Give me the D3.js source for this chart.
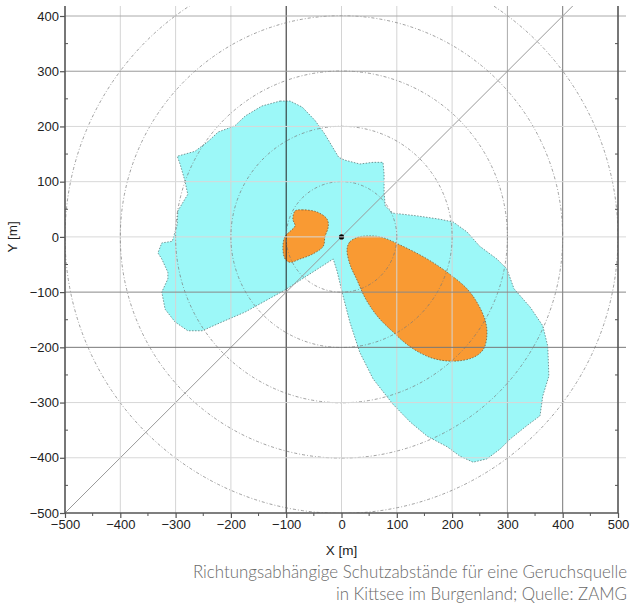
<!DOCTYPE html>
<html>
<head>
<meta charset="utf-8">
<script src="https://cdn.jsdelivr.net/npm/d3@7"></script>
<style>
  body { margin: 0; background: #fff; }
  svg { display: block; }
</style>
</head>
<body>
<script>
// distances in metres
const xTicks = [-500, -400, -300, -200, -100, 0, 100, 200, 300, 400, 500];
const yTicks = [-500, -400, -300, -200, -100, 0, 100, 200, 300, 400];
const rings = [100, 200, 300, 400, 500];

// outer (cyan) zone
const outerZone = [
  [-111, 246], [-93, 246], [-71, 235], [-48, 211], [-30, 186], [-14, 159], [-5, 144], [6, 139],
  [33, 132], [57, 135], [75, 135], [77, 114], [77, 81], [79, 56], [93, 43], [137, 38],
  [178, 32], [202, 27], [227, 9], [250, -17], [281, -40], [299, -58], [312, -94], [341, -127],
  [364, -161], [373, -198], [375, -252], [364, -288], [359, -324], [335, -342], [305, -366],
  [287, -384], [263, -402], [238, -408], [214, -397], [191, -380], [155, -361], [124, -335],
  [93, -303], [57, -257], [33, -209], [15, -154], [1, -100], [-8, -62], [-15, -40],
  [-102, -96], [-174, -136], [-216, -154], [-252, -170], [-278, -170], [-301, -154],
  [-319, -131], [-325, -100], [-314, -76], [-314, -64], [-325, -40], [-332, -29], [-325, -11],
  [-306, -8], [-297, 23], [-296, 47], [-278, 77], [-283, 101], [-292, 132], [-297, 146],
  [-265, 155], [-241, 173], [-223, 190], [-193, 201], [-174, 219], [-144, 237]
];

// inner (orange) zones
const innerZoneSE = [
  [10, -22], [15, -9], [26, -2], [37, 1], [70, 0], [111, -17], [155, -40], [191, -64],
  [227, -94], [247, -122], [260, -152], [263, -176], [257, -203], [239, -218], [205, -225],
  [169, -221], [142, -210], [115, -192], [93, -172], [66, -145], [44, -113], [28, -78], [15, -49]
];
const innerZoneNW = [
  [-84, 47], [-71, 49], [-44, 45], [-26, 32], [-24, 18], [-30, 0], [-33, -17], [-52, -31],
  [-75, -40], [-93, -46], [-102, -40], [-106, -18], [-102, 1], [-93, 10], [-84, 20], [-88, 32]
];

// grid line tones
const xGridColor = { "-100": "#222", "300": "#aaa", "400": "#777" };
const yGridColor = { "400": "#aaa", "300": "#999", "-100": "#888", "-200": "#777" };

const width = 632, height = 605;
const mLeft = 65, mRight = 618, mTop = 6, mBottom = 513;

const x = d3.scaleLinear().domain([-500, 500]).range([mLeft, mRight]);
const y = d3.scaleLinear().domain([-500, 400]).range([mBottom, mBottom - 497]);

const svg = d3.select("body").append("svg")
    .attr("width", width)
    .attr("height", height)
    .style("font-family", "'Liberation Sans', Arial, sans-serif");

svg.append("clipPath").attr("id", "plot")
  .append("rect")
    .attr("x", mLeft).attr("y", mTop)
    .attr("width", mRight - mLeft).attr("height", mBottom - mTop);

const plot = svg.append("g").attr("clip-path", "url(#plot)");

const line = d3.line().x(d => x(d[0])).y(d => y(d[1]));

plot.append("path")
    .attr("d", line.curve(d3.curveLinearClosed)(outerZone))
    .attr("fill", "#9cf8f8")
    .attr("stroke", "#4a6a6a")
    .attr("stroke-width", 0.7)
    .attr("stroke-dasharray", "1.5,1.5");

plot.selectAll("path.inner")
  .data([innerZoneSE, innerZoneNW])
  .join("path")
    .attr("class", "inner")
    .attr("d", d => d3.line().x(p => x(p[0])).y(p => y(p[1])).curve(d3.curveCatmullRomClosed)(d))
    .attr("fill", "#f99a33")
    .attr("stroke", "#6a4a2a")
    .attr("stroke-width", 0.7)
    .attr("stroke-dasharray", "1.5,1.5");

// grid
plot.selectAll("line.gx")
  .data(xTicks.slice(1, -1))
  .join("line")
    .attr("class", "gx")
    .attr("x1", d => x(d)).attr("x2", d => x(d))
    .attr("y1", mTop).attr("y2", mBottom)
    .attr("stroke", d => xGridColor[d] || "#d4d4d4")
    .attr("stroke-width", 1);

svg.selectAll("line.gy")
  .data(yTicks.slice(1))
  .join("line")
    .attr("class", "gy")
    .attr("x1", mLeft).attr("x2", mRight + 8)
    .attr("y1", d => y(d)).attr("y2", d => y(d))
    .attr("stroke", d => yGridColor[d] || "#d8d8d8")
    .attr("stroke-width", 1);

// rings
plot.selectAll("circle.ring")
  .data(rings)
  .join("circle")
    .attr("class", "ring")
    .attr("cx", x(0)).attr("cy", y(0))
    .attr("r", d => x(d) - x(0))
    .attr("fill", "none")
    .attr("stroke", "#777")
    .attr("stroke-width", 0.7)
    .attr("stroke-dasharray", "3,2,1,2");

// diagonal
plot.append("line")
    .attr("x1", x(-500)).attr("y1", y(-500))
    .attr("x2", x(430)).attr("y2", y(430))
    .attr("stroke", "#999")
    .attr("stroke-width", 1);

// source
plot.append("circle")
    .attr("cx", x(0)).attr("cy", y(0)).attr("r", 2.6)
    .attr("fill", "#000");

// axes
const axisColor = "#555";
const minor = d3.range(-450, 500, 100);

svg.append("g")
    .attr("transform", `translate(0,${mBottom})`)
    .call(d3.axisBottom(x).tickValues(xTicks).tickSize(5).tickFormat(d3.format("d")))
    .call(g => g.select(".domain").attr("stroke", axisColor).attr("stroke-width", 1.6)
      .attr("d", `M${mLeft},0H${mRight}`))
    .call(g => g.selectAll(".tick line").attr("stroke", axisColor).attr("stroke-width", 1.2))
    .call(g => g.selectAll(".tick text").attr("font-size", 13).attr("fill", "#222")
      .attr("font-family", "'Liberation Sans', Arial, sans-serif").attr("dy", "0.65em"));

svg.append("g")
    .attr("transform", `translate(0,${mBottom})`)
    .selectAll("line")
    .data(minor)
    .join("line")
      .attr("x1", d => x(d)).attr("x2", d => x(d))
      .attr("y1", 0).attr("y2", 3)
      .attr("stroke", axisColor);

svg.append("g")
    .attr("transform", `translate(${mLeft},0)`)
    .call(d3.axisLeft(y).tickValues(yTicks).tickSize(5).tickFormat(d3.format("d")))
    .call(g => g.select(".domain").attr("stroke", axisColor).attr("stroke-width", 1.6)
      .attr("d", `M0,${mTop}V${mBottom}`))
    .call(g => g.selectAll(".tick line").attr("stroke", axisColor).attr("stroke-width", 1.2))
    .call(g => g.selectAll(".tick text").attr("font-size", 13).attr("fill", "#222")
      .attr("font-family", "'Liberation Sans', Arial, sans-serif").attr("x", -6));

svg.append("g")
    .attr("transform", `translate(${mLeft},0)`)
    .selectAll("line")
    .data(d3.range(-450, 400, 100))
    .join("line")
      .attr("x1", 0).attr("x2", 3)
      .attr("y1", d => y(d)).attr("y2", d => y(d))
      .attr("stroke", axisColor);

// right border
const rightAxis = svg.append("g").attr("transform", `translate(${mRight},0)`);
rightAxis.append("line")
    .attr("y1", mTop).attr("y2", mBottom)
    .attr("stroke", axisColor).attr("stroke-width", 1.6);
rightAxis.selectAll("line.mn")
  .data(d3.range(-450, 400, 100))
  .join("line")
    .attr("class", "mn")
    .attr("x1", -3).attr("x2", 0)
    .attr("y1", d => y(d)).attr("y2", d => y(d))
    .attr("stroke", axisColor);

// axis titles
svg.append("text")
    .attr("x", x(0)).attr("y", 555)
    .attr("text-anchor", "middle")
    .attr("font-size", 13.5).attr("fill", "#222")
    .text("X [m]");

svg.append("text")
    .attr("transform", `translate(17,${y(0)}) rotate(-90)`)
    .attr("text-anchor", "middle")
    .attr("font-size", 13.5).attr("fill", "#222")
    .text("Y [m]");

// caption
const caption = ["Richtungsabhängige Schutzabstände für eine Geruchsquelle",
                 "in Kittsee im Burgenland; Quelle: ZAMG"];
svg.selectAll("text.cap")
  .data(caption)
  .join("text")
    .attr("class", "cap")
    .attr("x", 627).attr("y", (d, i) => 578 + i * 22)
    .attr("text-anchor", "end")
    .attr("font-family", "Lato, 'Open Sans', sans-serif")
    .attr("font-weight", 300)
    .attr("font-size", 16.9)
    .attr("fill", "#6a6a6a")
    .text(d => d);
</script>
</body>
</html>
